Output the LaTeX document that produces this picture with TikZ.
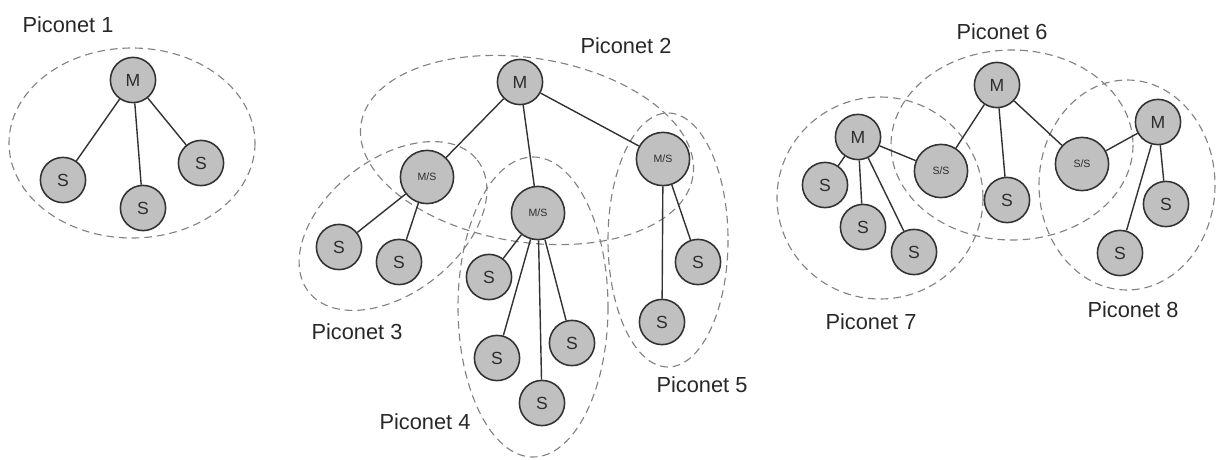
\documentclass[tikz,border=0pt]{standalone}
\usepackage{fontspec}
\setmainfont{Liberation Sans}
\usepackage{xcolor}

\tikzset{
  dev/.style={circle, draw=nodeline, fill=nodefill, line width=1.1pt, inner sep=0pt,
    minimum size=1.13cm, text=nodetext, font=\fontsize{12.5}{14}\selectfont},
  bridge/.style={dev, minimum size=1.33cm, font=\fontsize{7.5}{9}\selectfont},
  piconet/.style={draw=netline, dash pattern=on 5.5pt off 3.5pt, line width=0.8pt},
  netlabel/.style={text=labeltext, font=\fontsize{15.5}{18}\selectfont},
  link/.style={draw=nodeline, line width=1pt},
}

\begin{document}
\begin{tikzpicture}[x=0.025cm, y=-0.025cm]

% --- COLOURS ---
\definecolor{nodefill}{RGB}{192, 192, 192}  % device disc
\definecolor{nodeline}{RGB}{50, 50, 50}     % disc outline and links
\definecolor{nodetext}{RGB}{45, 45, 45}
\definecolor{netline}{RGB}{130, 130, 130}   % dashed piconet boundary
\definecolor{labeltext}{RGB}{40, 40, 40}

\useasboundingbox (0,0) rectangle (1216,460);

% --- PICONET BOUNDARIES ---
\draw[piconet] (132,143) ellipse (123 and 95);
\draw[piconet, rotate around={-9:(527,150)}] (527,150) ellipse (168 and 92);
\draw[piconet, rotate around={38:(393,226)}] (393,226) ellipse (107 and 67);
\draw[piconet] (533,307) ellipse (75 and 150);
\draw[piconet] (668,240) ellipse (60 and 127);
\draw[piconet] (1012,145) ellipse (121 and 95);
\draw[piconet] (880,198) ellipse (103 and 101);
\draw[piconet] (1127,185) ellipse (88 and 105);

% --- PICONET 1 ---
\node[dev] (m1)  at (133,80)  {M};
\node[dev] (s1a) at (63,180)  {S};
\node[dev] (s1b) at (143,208) {S};
\node[dev] (s1c) at (201,163) {S};

% --- SCATTERNET: PICONETS 2 TO 5 ---
\node[dev]    (m2)  at (520,82)  {M};
\node[bridge] (b3)  at (427,177) {M/S};
\node[bridge] (b4)  at (538,213) {M/S};
\node[bridge] (b5)  at (663,159) {M/S};
\node[dev]    (s3a) at (339,247) {S};
\node[dev]    (s3b) at (399,262) {S};
\node[dev]    (s4a) at (489,277) {S};
\node[dev]    (s4b) at (497,358) {S};
\node[dev]    (s4c) at (542,403) {S};
\node[dev]    (s4d) at (572,343) {S};
\node[dev]    (s5a) at (698,262) {S};
\node[dev]    (s5b) at (662,322) {S};

% --- SCATTERNET: PICONETS 6 TO 8 ---
\node[dev]    (m6)  at (997,85)   {M};
\node[bridge] (b7)  at (941,171)  {S/S};
\node[bridge] (b8)  at (1082,164) {S/S};
\node[dev]    (s6)  at (1007,200) {S};
\node[dev]    (m7)  at (858,137)  {M};
\node[dev]    (s7a) at (825,185)  {S};
\node[dev]    (s7b) at (863,227)  {S};
\node[dev]    (s7c) at (914,252)  {S};
\node[dev]    (m8)  at (1158,122) {M};
\node[dev]    (s8a) at (1166,204) {S};
\node[dev]    (s8b) at (1120,253) {S};

% --- LINKS ---
\foreach \a/\b in {m1/s1a, m1/s1b, m1/s1c,
                   m2/b3, m2/b4, m2/b5,
                   b3/s3a, b3/s3b,
                   b4/s4a, b4/s4b, b4/s4c, b4/s4d,
                   b5/s5a, b5/s5b,
                   m6/b7, m6/s6, m6/b8,
                   m7/b7, m7/s7a, m7/s7b, m7/s7c,
                   m8/b8, m8/s8a, m8/s8b} {
    \draw[link] (\a) -- (\b);
}

% --- LABELS ---
\node[netlabel] (l1) at (68,25)    {Piconet 1};
\node[netlabel] (l2) at (626,46)   {Piconet 2};
\node[netlabel] (l3) at (357,332)  {Piconet 3};
\node[netlabel] (l4) at (425,422)  {Piconet 4};
\node[netlabel] (l5) at (702,385)  {Piconet 5};
\node[netlabel] (l6) at (1002,32)  {Piconet 6};
\node[netlabel] (l7) at (871,322)  {Piconet 7};
\node[netlabel] (l8) at (1133,310) {Piconet 8};

\end{tikzpicture}
\end{document}
